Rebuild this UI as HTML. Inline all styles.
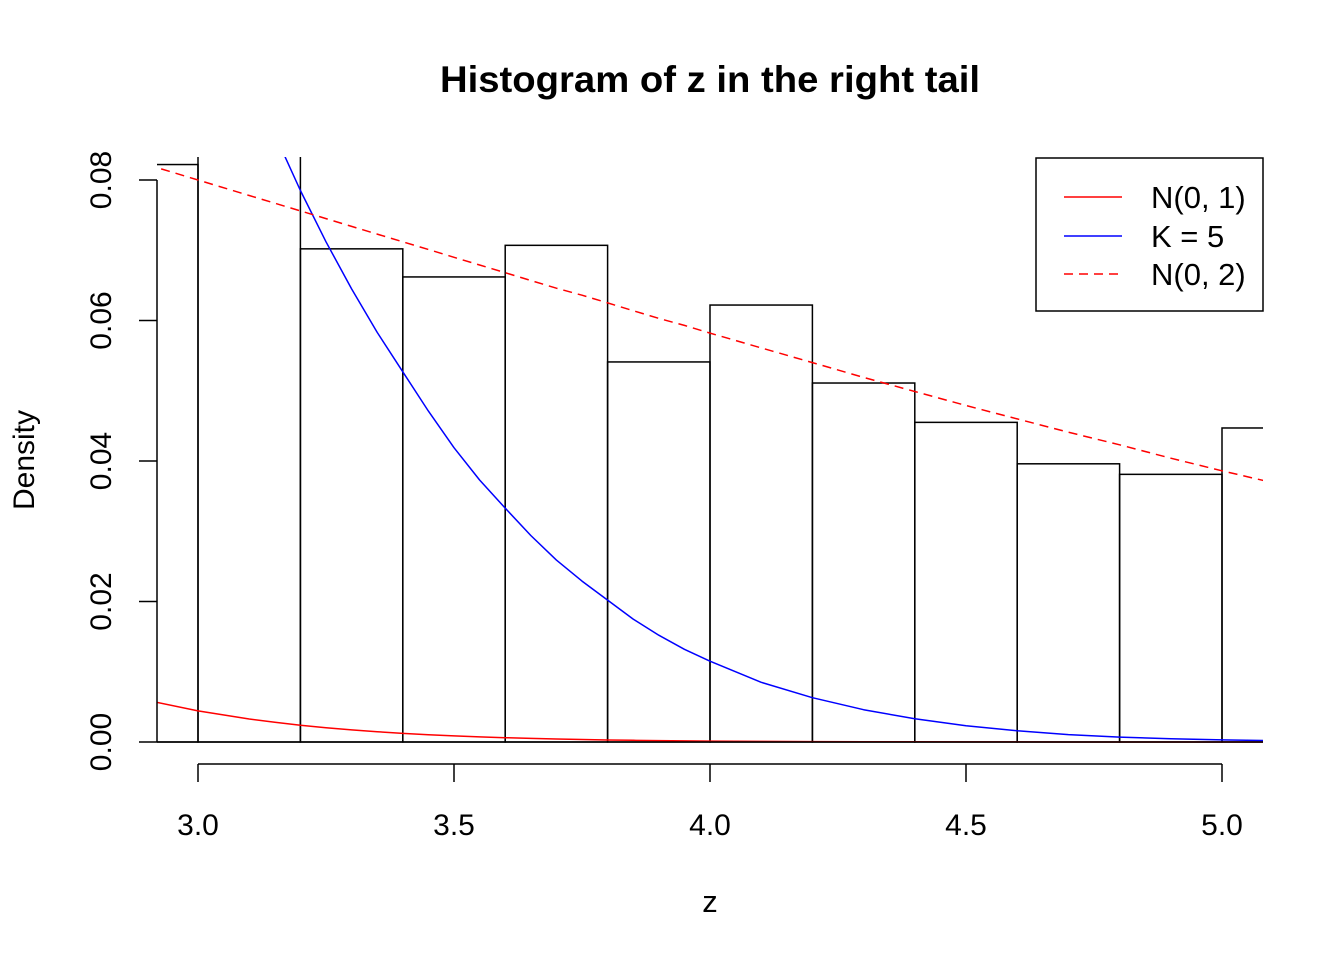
<!DOCTYPE html>
<html><head><meta charset="utf-8"><style>body{margin:0;background:#fff}svg{display:block;font-family:"Liberation Sans",Arial,sans-serif}</style></head>
<body>
<svg id="chart" width="1344" height="960">
<defs><clipPath id="clip"><rect x="157" y="157" width="1106" height="600"/></clipPath></defs>
<text x="710" y="92" text-anchor="middle" font-size="37" font-weight="bold" textLength="540" lengthAdjust="spacingAndGlyphs">Histogram of z in the right tail</text>
<text x="710" y="912" text-anchor="middle" font-size="31">z</text>
<text transform="translate(34,460) rotate(-90)" text-anchor="middle" font-size="30">Density</text>
<g id="bars" clip-path="url(#clip)"></g>
<g id="curves" clip-path="url(#clip)"></g>
<g id="axes"></g>
<g>
<rect x="1036" y="158" width="227" height="153" fill="#fff" stroke="#000" stroke-width="1.5"/>
<line x1="1064" y1="197" x2="1122" y2="197" stroke="red" stroke-width="1.5"/>
<text x="1151" y="208" font-size="31">N(0, 1)</text>
<line x1="1064" y1="236" x2="1122" y2="236" stroke="blue" stroke-width="1.5"/>
<text x="1151" y="247" font-size="31">K = 5</text>
<line x1="1064" y1="274" x2="1122" y2="274" stroke="red" stroke-width="1.5" stroke-dasharray="9,6"/>
<text x="1151" y="285" font-size="31">N(0, 2)</text>
</g>
</svg>
<script>
const binStarts=[2.8,3.0,3.2,3.4,3.6,3.8,4.0,4.2,4.4,4.6,4.8,5.0];
const binDensity=[0.0822,0.1,0.0702,0.0662,0.0707,0.0541,0.0622,0.0511,0.0455,0.0396,0.0381,0.0447];
const binWidth=0.2;
const curveX=[2.9,3.0,3.1,3.15,3.2,3.25,3.3,3.35,3.4,3.45,3.5,3.55,3.6,3.65,3.7,3.75,3.8,3.85,3.9,3.95,4.0,4.1,4.2,4.3,4.4,4.5,4.6,4.7,4.8,4.9,5.0,5.1];
const normal1=[0.00595,0.00443,0.00327,0.0028,0.00238,0.00203,0.00172,0.00146,0.00123,0.00104,0.00087,0.00073,0.00061,0.00051,0.00042,0.00035,0.00029,0.00024,0.0002,0.00016,0.000134,0.00009,0.000059,0.000039,0.000025,0.000016,0.00001,0.000006,0.000004,0.000002,0.0000015,0.000001];
const kcurve=[0.12,0.11,0.095,0.0865,0.0785,0.0712,0.0645,0.0583,0.0527,0.0471,0.0419,0.0373,0.0333,0.0294,0.0259,0.0229,0.0202,0.0175,0.0152,0.0132,0.0115,0.0085,0.0063,0.0046,0.0033,0.0023,0.0016,0.00106,0.0007,0.00046,0.0003,0.0002];
const normal2=[0.0822,0.0800,0.0778,0.0767,0.0756,0.0745,0.0734,0.0723,0.0712,0.0701,0.0690,0.0679,0.0668,0.0657,0.0646,0.0636,0.0625,0.0614,0.0603,0.0593,0.0582,0.0561,0.0540,0.0519,0.0499,0.0479,0.0460,0.0441,0.0423,0.0404,0.0386,0.0369];
const xTicks=[3.0,3.5,4.0,4.5,5.0];
const yTicks=[0,0.02,0.04,0.06,0.08];
const xs=v=>198+(v-3)*512;
const ys=v=>742-v*7025;
const NS="http://www.w3.org/2000/svg";
function mk(tag,attrs,parent){const e=document.createElementNS(NS,tag);for(const k in attrs)e.setAttribute(k,attrs[k]);parent.appendChild(e);return e;}
const bars=document.getElementById('bars');
binStarts.forEach((b,i)=>{
 const r=mk('rect',{x:xs(b),y:ys(binDensity[i]),width:xs(b+binWidth)-xs(b),height:ys(0)-ys(binDensity[i]),fill:'none',stroke:'#000','stroke-width':1.5},bars);
 
 
});
const curves=document.getElementById('curves');
function line(vals,color,dash,name){
 const d=curveX.map((x,i)=>(i?'L':'M')+xs(x).toFixed(1)+','+ys(vals[i]).toFixed(1)).join('');
 const p=mk('path',{d:d,fill:'none',stroke:color,'stroke-width':1.5,'stroke-linejoin':'round'},curves);
 if(dash)p.setAttribute('stroke-dasharray',dash);
 
 
}
line(normal1,'red',null,'n01-curve');
line(kcurve,'blue',null,'k5-curve');
line(normal2,'red','9,6','n02-curve');
const axes=document.getElementById('axes');
mk('line',{x1:157,y1:742,x2:1263,y2:742,stroke:'#000','stroke-width':1.5},axes);
mk('line',{x1:xs(xTicks[0]),y1:764,x2:xs(xTicks[xTicks.length-1]),y2:764,stroke:'#000','stroke-width':1.5},axes);
xTicks.forEach(t=>{
 mk('line',{x1:xs(t),y1:764,x2:xs(t),y2:782,stroke:'#000','stroke-width':1.5},axes);
 const tx=mk('text',{x:xs(t),y:835,'text-anchor':'middle','font-size':30},axes);
 tx.textContent=t.toFixed(1);
 
 
});
mk('line',{x1:157,y1:ys(yTicks[0]),x2:157,y2:ys(yTicks[yTicks.length-1]),stroke:'#000','stroke-width':1.5},axes);
yTicks.forEach(t=>{
 mk('line',{x1:139,y1:ys(t),x2:157,y2:ys(t),stroke:'#000','stroke-width':1.5},axes);
 const tx=mk('text',{transform:`translate(111,${ys(t)}) rotate(-90)`,'text-anchor':'middle','font-size':30},axes);
 tx.textContent=t.toFixed(2);
 
 
});
</script>
</body></html>
